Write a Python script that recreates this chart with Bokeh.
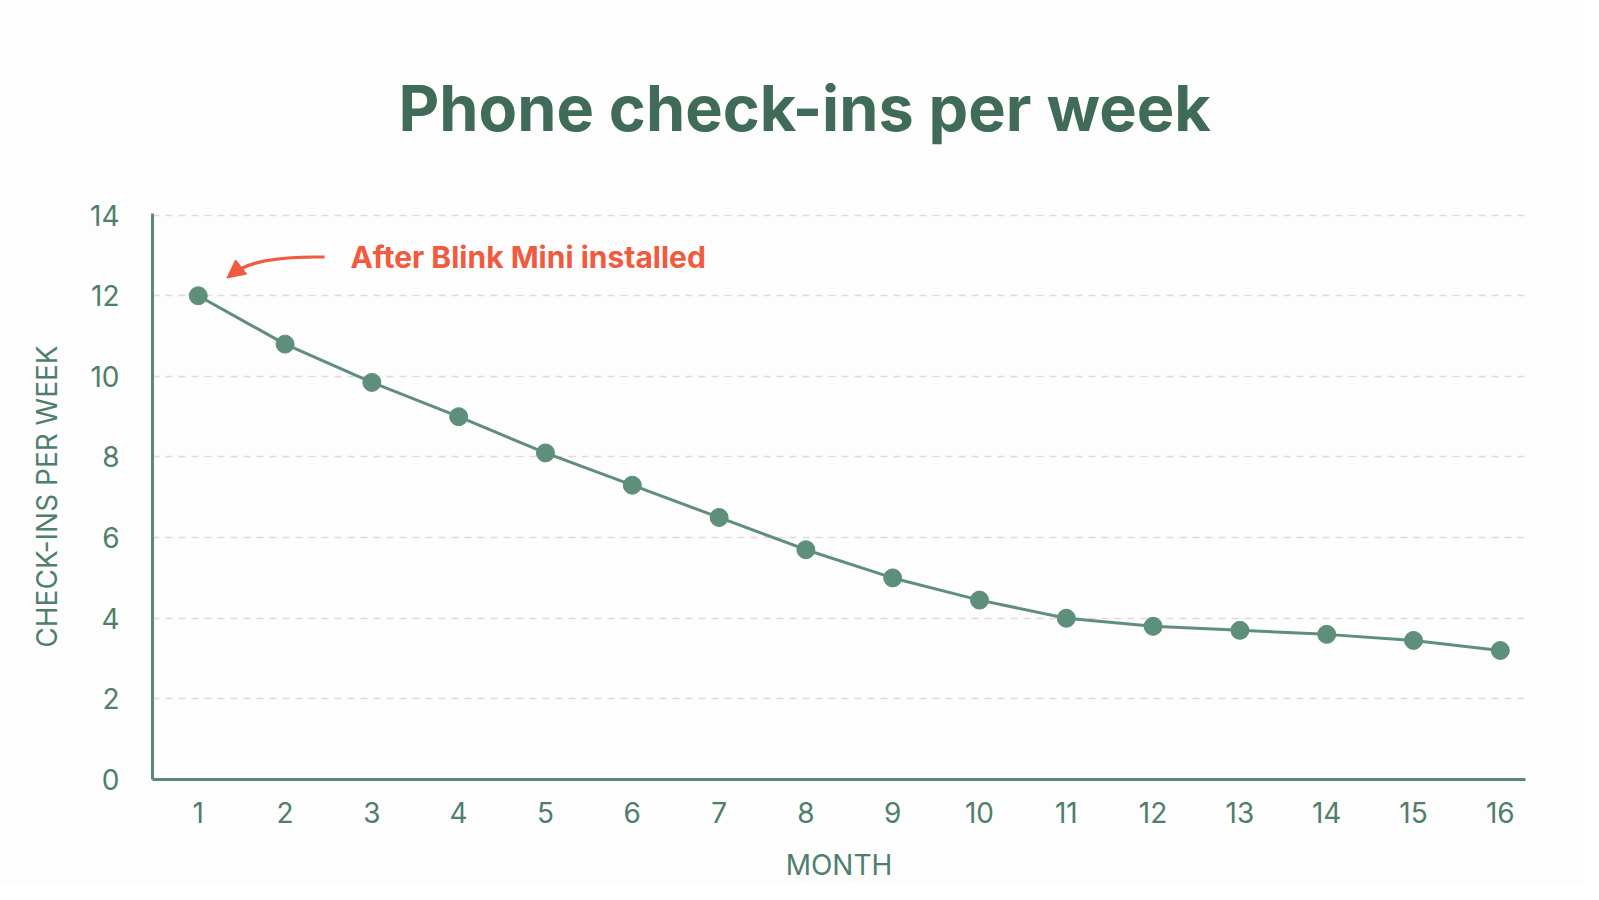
from bokeh.plotting import figure
from bokeh.models import Range1d, FixedTicker, Label, Arrow, NormalHead, Title
from bokeh.embed import file_html
from bokeh.resources import INLINE

# data
months = list(range(1, 17))
checkins = [12.0, 10.8, 9.85, 9.0, 8.1, 7.3, 6.5, 5.7, 5.0, 4.45, 4.0, 3.8, 3.7, 3.6, 3.45, 3.2]
y_ticks = [0, 2, 4, 6, 8, 10, 12, 14]

GREEN = "#5e8f7a"
AXIS = "#5a8a76"
TEXT = "#4f7f6b"
TITLE = "#3f6b58"
RED = "#f05a3f"
FONT = "Inter"

p = figure(
    width=1583, height=884,
    x_range=Range1d(0.473, 16.29), y_range=Range1d(0, 14.04),
    output_backend="svg", toolbar_location=None,
    min_border_left=152, min_border_right=58,
    min_border_top=213, min_border_bottom=104,
    x_axis_label="MONTH", y_axis_label="CHECK-INS PER WEEK",
)
p.background_fill_color = "#fdfdfd"
p.border_fill_color = "#fdfdfd"
p.outline_line_color = None

# title, filling the top border
p.add_layout(Title(
    text="Phone check-ins per week", align="left", offset=246,
    vertical_align="middle", standoff=134,
    text_font=FONT, text_font_size="63px", text_font_style="bold",
    text_color=TITLE,
), "above")

# grid
p.xgrid.grid_line_color = None
p.ygrid.ticker = FixedTicker(ticks=y_ticks[1:])
p.ygrid.grid_line_color = "#dcdcdc"
p.ygrid.grid_line_dash = "7 6"
p.ygrid.grid_line_width = 1.5

# axes
p.xaxis.ticker = FixedTicker(ticks=months)
p.yaxis.ticker = FixedTicker(ticks=y_ticks)
for ax in (p.xaxis, p.yaxis):
    ax.axis_line_color = AXIS
    ax.axis_line_width = 3
    ax.major_tick_line_color = None
    ax.minor_tick_line_color = None
    ax.major_label_text_color = TEXT
    ax.major_label_text_font = FONT
    ax.major_label_text_font_size = "28px"
    ax.axis_label_text_color = TEXT
    ax.axis_label_text_font = FONT
    ax.axis_label_text_font_size = "28px"
    ax.axis_label_text_font_style = "normal"
p.yaxis.major_label_standoff = 27
p.xaxis.major_label_standoff = 16
p.yaxis.axis_label_standoff = 23
p.xaxis.axis_label_standoff = 22

# series
p.line(months, checkins, line_color=GREEN, line_width=3)
p.scatter(months, checkins, size=18, fill_color=GREEN, line_color=GREEN)

# annotation near the first point
x0, y0 = months[0], checkins[0]
p.add_layout(Label(
    x=x0 + 1.755, y=y0 + 0.96, text="After Blink Mini installed",
    text_font=FONT, text_font_size="30px", text_font_style="bold",
    text_color=RED, text_align="left", text_baseline="middle",
))
p.bezier(
    x0=[x0 + 1.455], y0=[y0 + 0.96], x1=[x0 + 0.38], y1=[y0 + 0.5],
    cx0=[x0 + 0.9], cy0=[y0 + 0.98], cx1=[x0 + 0.55], cy1=[y0 + 0.85],
    line_color=RED, line_width=3,
)
p.add_layout(Arrow(
    x_start=x0 + 0.45, y_start=y0 + 0.64, x_end=x0 + 0.33, y_end=y0 + 0.44,
    line_color=RED, line_width=3,
    end=NormalHead(size=18, fill_color=RED, line_color=RED),
))

open("out.html", "w").write(file_html(p, INLINE))
